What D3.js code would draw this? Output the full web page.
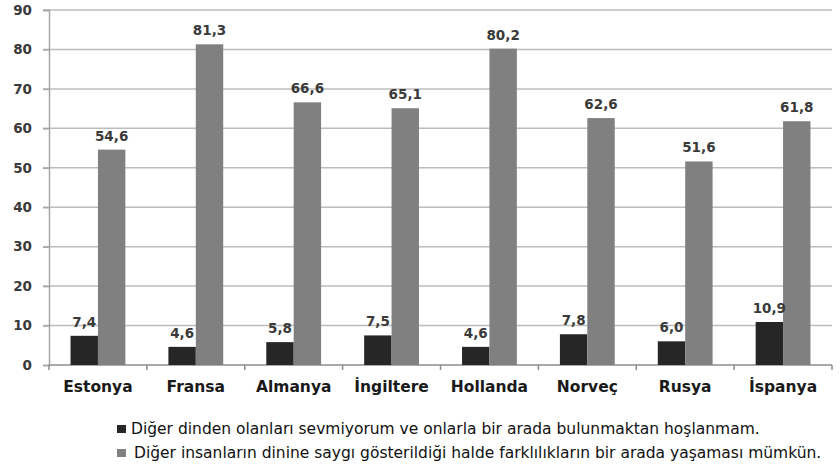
<!DOCTYPE html>
<html>
<head>
<meta charset="utf-8">
<script src="https://cdn.jsdelivr.net/npm/d3@7"></script>
<style>
  body { margin: 0; background: #fff; }
  text { font-family: "DejaVu Sans", sans-serif; }
</style>
</head>
<body>
<div id="chart-area"></div>
<script>
const countries = ["Estonya", "Fransa", "Almanya", "İngiltere", "Hollanda", "Norveç", "Rusya", "İspanya"]
const dislike = [7.4, 4.6, 5.8, 7.5, 4.6, 7.8, 6.0, 10.9]
const respect = [54.6, 81.3, 66.6, 65.1, 80.2, 62.6, 51.6, 61.8]
const yTicks = [0, 10, 20, 30, 40, 50, 60, 70, 80, 90]
const seriesNames = [
  "Diğer dinden olanları sevmiyorum ve onlarla bir arada bulunmaktan hoşlanmam.",
  "Diğer insanların dinine saygı gösterildiği halde farklılıkların bir arada yaşaması mümkün."
]
const colors = ["#262626", "#808080"]

const W = 840, H = 470
const MARGIN = {LEFT: 49, RIGHT: 8, TOP: 10, BOTTOM: 105}
const WIDTH = W - MARGIN.LEFT - MARGIN.RIGHT
const HEIGHT = H - MARGIN.TOP - MARGIN.BOTTOM

const svg = d3.select("#chart-area").append("svg")
    .attr("width", W)
    .attr("height", H)

const g = svg.append("g")
    .attr("transform", `translate(${MARGIN.LEFT}, ${MARGIN.TOP})`)

const x0 = d3.scaleBand()
    .domain(countries)
    .range([0, WIDTH])
    .paddingInner(0.44)
    .paddingOuter(0.22)

const x1 = d3.scaleBand()
    .domain([0, 1])
    .range([0, x0.bandwidth()])

const y = d3.scaleLinear()
    .domain([0, 90])
    .range([HEIGHT, 0])

// gridlines
g.append("g")
  .selectAll("line")
  .data(yTicks.filter(d => d > 0))
  .enter().append("line")
    .attr("x1", -6)
    .attr("x2", WIDTH)
    .attr("y1", d => y(d))
    .attr("y2", d => y(d))
    .attr("stroke", "#bcbcbc")
    .attr("stroke-width", 1.5)

// y axis
const yAxis = g.append("g")
  .call(d3.axisLeft(y).tickValues(yTicks).tickSize(6).tickPadding(11))
yAxis.select(".domain").attr("stroke", "#a6a6a6").attr("stroke-width", 1.5)
yAxis.selectAll(".tick line").attr("stroke", "#a6a6a6").attr("stroke-width", 1.5)
yAxis.selectAll("text")
  .attr("font-size", "13.5px")
  .attr("font-weight", "bold")
  .attr("fill", "#3a3a3a")
  .style("font-family", "'DejaVu Sans', sans-serif")

// x axis
const xTickPos = d3.range(countries.length + 1).map(i => i * x0.step())
g.append("line")
  .attr("x1", 0).attr("x2", WIDTH)
  .attr("y1", HEIGHT).attr("y2", HEIGHT)
  .attr("stroke", "#8c8c8c").attr("stroke-width", 1.5)
g.append("g").selectAll("line")
  .data(xTickPos)
  .enter().append("line")
    .attr("x1", d => d).attr("x2", d => d)
    .attr("y1", HEIGHT).attr("y2", HEIGHT + 5)
    .attr("stroke", "#8c8c8c").attr("stroke-width", 1.5)

g.append("g").selectAll("text")
  .data(countries)
  .enter().append("text")
    .attr("x", d => x0(d) + x0.bandwidth() / 2)
    .attr("y", HEIGHT + 27)
    .attr("text-anchor", "middle")
    .attr("font-size", "15.5px")
    .attr("font-weight", "bold")
    .attr("fill", "#1a1a1a")
    .text(d => d)

// bars
const rows = countries.map((c, i) => ({country: c, values: [dislike[i], respect[i]]}))

const groups = g.selectAll(".grp")
  .data(rows)
  .enter().append("g")
    .attr("class", "grp")
    .attr("transform", d => `translate(${x0(d.country)}, 0)`)

groups.selectAll("rect")
  .data(d => d.values.map((v, k) => ({k, v})))
  .enter().append("rect")
    .attr("x", d => x1(d.k))
    .attr("y", d => y(d.v))
    .attr("width", x1.bandwidth())
    .attr("height", d => HEIGHT - y(d.v))
    .attr("fill", d => colors[d.k])

groups.selectAll(".val")
  .data(d => d.values.map((v, k) => ({k, v})))
  .enter().append("text")
    .attr("class", "val")
    .attr("x", d => x1(d.k) + x1.bandwidth() / 2)
    .attr("y", d => y(d.v) - 9)
    .attr("text-anchor", "middle")
    .attr("font-size", "13.5px")
    .attr("font-weight", "bold")
    .attr("fill", "#3a3a3a")
    .text(d => d.v.toFixed(1).replace(".", ","))

// legend
const legend = svg.append("g")
const legY = [430, 454]
seriesNames.forEach((name, i) => {
  legend.append("rect")
    .attr("x", 117)
    .attr("y", legY[i] - 5)
    .attr("width", 9)
    .attr("height", 8)
    .attr("fill", colors[i])
  legend.append("text")
    .attr("x", 131 + i * 3)
    .attr("y", legY[i] + 4)
    .attr("font-size", "15.5px")
    .attr("fill", "#111")
    .text(name)
})
</script>
</body>
</html>
